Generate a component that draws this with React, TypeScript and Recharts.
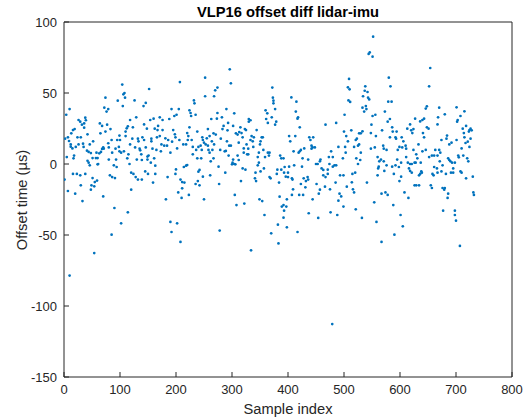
import React from 'react';
import { ScatterChart, Scatter, XAxis, YAxis } from 'recharts';

// [sample index, offset time (µs)], grouped by index range
const samples000: number[][] = [
  [74,46.7],[96,44.6],[10,38.7],[4,34.7],[72,39.7],[76,36.9],[79,38.7],[26,31.0],[29,29.8],[38,32.6],[39,30.8],[32,27.7],[36,28.6],[64,28.6],[68,26.8],[77,27.7],[19,24.6],[16,23.9],[36,25.6],[83,24.6],[74,22.8],[65,21.6],[42,20.9],[13,21.6],[7,18.8],[2,17.8],[24,18.8],[30,18.8],[9,16.2],[34,14.3],[12,13.8],[26,13.8],[52,16.0],[46,13.8],[79,14.6],[85,16.9],[95,16.9],[12,12.2],[15,11.0],[21,12.0],[35,12.0],[70,11.7],[68,10.6],[71,10.8],[80,11.7],[41,9.4],[44,8.5],[48,7.7],[58,8.0],[63,7.5],[66,8.5],[86,8.0],[92,10.8],[18,5.9],[17,4.0],[5,4.9],[51,4.2],[57,4.2],[60,4.2],[80,3.1],[93,3.1],[42,2.3],[44,0.9],[46,-0.9],[60,-0.2],[61,0],[89,-0.9],[94,-2.1],[16,-7.0],[23,-7.0],[29,-8.0],[38,-7.0],[51,-9.9],[55,-12.7],[59,-11.7],[82,-8.0],[86,-9.2],[91,-9.9],[1,-11.0],[54,-15.7],[49,-15.0],[30,-15.0],[48,-18.1],[7,-19.0],[20,-20.9],[70,-22.8],[33,-26.1],[90,-31.0],[85,-49.8],[54,-62.7],[10,-78.6],
];
const samples100: number[][] = [
  [104,55.9],[152,52.8],[106,49.1],[108,50.0],[109,46.7],[126,44.8],[105,40.8],[146,43.0],[142,40.8],[192,38.7],[129,32.9],[118,31.0],[114,26.5],[112,25.1],[123,25.8],[110,22.8],[110,19.7],[99,20.0],[143,27.9],[148,24.9],[154,31.0],[160,31.9],[171,32.9],[176,31.0],[168,26.8],[162,24.9],[167,23.9],[176,23.9],[188,31.7],[195,23.9],[100,16.9],[122,17.8],[132,17.8],[133,16.0],[140,18.8],[143,16.9],[156,17.8],[156,16.0],[166,18.8],[171,19.7],[181,18.1],[186,16.9],[193,15.7],[118,13.8],[127,11.7],[135,10.8],[136,9.6],[146,11.7],[158,10.8],[165,9.9],[174,13.8],[179,12.9],[184,12.9],[173,8.9],[190,8.0],[107,8.9],[98,12.0],[99,8.9],[102,8.0],[115,6.8],[113,4.0],[138,6.8],[130,3.1],[139,2.8],[149,5.2],[151,5.9],[149,3.1],[161,4.0],[155,0.9],[117,0],[163,-1.2],[120,-6.1],[124,-7.0],[128,-9.2],[132,-11.0],[139,-11.0],[145,-5.2],[150,-7.0],[163,-7.0],[159,-13.1],[185,-9.2],[120,-18.1],[182,-24.9],[114,-34.0],[102,-41.8],[190,-40.8],[192,-47.9],
];
const samples200: number[][] = [
  [252,60.8],[207,57.7],[274,53.8],[270,51.9],[252,47.7],[268,47.7],[232,44.8],[233,42.7],[205,38.7],[224,37.8],[226,35.9],[227,33.8],[235,34.7],[201,34.7],[197,33.8],[274,35.9],[290,38.7],[263,31.7],[273,31.9],[282,32.9],[293,28.9],[224,25.8],[285,26.8],[283,24.6],[292,23.7],[257,24.6],[238,22.8],[220,21.8],[198,20.9],[199,18.8],[222,19.7],[221,16.9],[228,16.9],[247,18.8],[255,18.1],[260,19.7],[267,21.6],[271,20.7],[280,17.8],[291,16.0],[206,16.9],[248,16.9],[250,15.0],[253,13.8],[257,12.9],[264,16.0],[268,13.8],[213,13.8],[218,13.8],[244,12.9],[240,12.0],[230,12.0],[202,11.0],[236,9.9],[246,9.9],[258,9.9],[265,9.9],[260,8.0],[279,9.9],[287,8.9],[289,9.2],[295,12.9],[294,5.9],[230,6.8],[238,4.0],[245,4.0],[267,4.0],[262,1.9],[276,-1.9],[218,-1.2],[214,-2.1],[220,-0.7],[200,-3.8],[199,-7.0],[242,-4.2],[240,-5.4],[288,-6.1],[248,-8.9],[261,-8.0],[208,-11.0],[211,-12.7],[215,-13.1],[239,-12.0],[235,-14.1],[242,-15.0],[277,-14.1],[211,-17.1],[204,-20.0],[223,-21.8],[210,-23.9],[250,-24.9],[202,-41.8],[278,-46.9],[208,-54.9],
];
const samples300: number[][] = [
  [296,66.7],[298,56.8],[372,53.8],[373,46.7],[374,44.6],[374,42.7],[360,37.8],[377,38.7],[363,35.7],[304,35.7],[361,31.7],[371,32.9],[330,31.7],[333,30.8],[330,29.8],[379,29.8],[364,28.9],[377,27.7],[302,26.8],[315,25.8],[323,24.6],[325,23.9],[344,23.9],[313,22.5],[317,21.8],[307,21.6],[310,20.7],[319,18.8],[335,19.7],[339,18.8],[353,18.8],[355,18.8],[333,16.9],[337,16.0],[351,16.0],[312,15.0],[326,13.8],[350,13.8],[338,12.0],[298,12.9],[321,11.0],[329,10.8],[356,9.9],[321,8.0],[348,8.0],[364,8.0],[367,8.0],[327,6.8],[329,6.8],[310,5.9],[346,4.9],[359,4.9],[366,5.9],[386,5.9],[388,4.0],[392,4.0],[302,3.1],[312,2.8],[301,0.9],[304,0],[306,-0.2],[300,-0.2],[348,0.9],[346,-0.9],[357,-3.1],[319,-3.1],[324,-4.0],[342,-6.1],[351,-5.2],[381,-4.0],[394,-2.1],[393,-6.1],[380,-7.0],[388,-4.0],[341,-10.1],[343,-12.0],[367,-9.2],[369,-10.1],[396,-8.9],[384,-13.1],[316,-12.0],[305,-21.8],[308,-28.9],[322,-27.9],[349,-24.9],[354,-26.1],[385,-23.0],[389,-30.0],[392,-28.9],[393,-32.9],[358,-35.9],[392,-37.8],[382,-42.7],[370,-48.8],[383,-55.9],[334,-60.8],
];
const samples400: number[][] = [
  [406,46.9],[415,43.9],[414,36.9],[418,32.9],[417,31.9],[421,25.8],[467,27.7],[486,28.9],[402,19.7],[413,19.7],[404,16.0],[438,18.8],[445,18.8],[440,16.9],[442,12.9],[444,11.7],[448,11.7],[442,10.8],[410,8.9],[423,9.9],[421,8.9],[429,11.0],[419,8.0],[426,4.0],[436,3.1],[477,8.9],[490,12.0],[473,4.9],[480,4.9],[458,3.1],[457,1.9],[450,0],[453,0],[474,0],[483,-0.9],[480,-1.9],[486,-0.9],[460,-3.1],[463,-4.2],[471,-4.0],[425,-1.9],[411,-0.9],[402,-1.9],[400,-6.1],[407,-10.1],[408,-11.0],[400,-9.2],[428,-10.1],[435,-9.2],[436,-11.0],[432,-12.0],[431,-16.4],[423,-14.1],[451,-14.1],[463,-8.0],[467,-9.2],[471,-7.0],[466,-16.0],[475,-17.8],[485,-13.1],[493,-8.0],[457,-18.1],[455,-20.9],[409,-17.8],[407,-21.8],[420,-21.8],[427,-21.8],[444,-24.9],[398,-24.9],[490,-25.8],[492,-20.9],[495,-22.8],[397,-30.0],[437,-34.7],[476,-34.0],[488,-35.9],[454,-38.0],[398,-44.6],[417,-47.9],[479,-112.7],
];
const samples500: number[][] = [
  [552,89.7],[546,78.6],[544,77.5],[551,75.6],[580,60.8],[509,59.9],[583,54.7],[507,54.0],[510,52.6],[538,54.7],[537,51.6],[542,50.7],[534,47.7],[543,46.7],[545,45.5],[508,44.8],[511,43.7],[579,43.9],[585,43.9],[539,40.8],[533,39.7],[540,38.7],[536,36.9],[573,36.9],[501,34.7],[556,34.7],[551,33.8],[582,31.7],[578,29.8],[549,27.7],[586,25.8],[500,22.8],[513,23.7],[527,21.6],[530,21.6],[533,23.0],[568,23.7],[587,22.8],[594,22.8],[548,21.8],[504,19.7],[557,19.7],[523,17.8],[521,16.9],[507,16.0],[582,18.8],[592,18.8],[593,17.8],[527,13.8],[525,12.9],[518,12.0],[502,12.0],[570,12.9],[571,10.8],[576,9.9],[555,11.7],[548,10.8],[596,9.9],[503,8.0],[530,8.0],[560,4.9],[498,4.0],[522,4.0],[529,2.8],[566,3.1],[563,1.9],[571,1.9],[595,3.1],[525,0],[576,-0.9],[562,-1.9],[561,-3.1],[586,-1.9],[592,-0.9],[572,-4.9],[520,-6.1],[515,-7.0],[499,-8.0],[560,-8.0],[589,-7.0],[541,-13.1],[514,-12.9],[505,-16.0],[516,-17.8],[518,-20.0],[567,-20.9],[574,-20.0],[578,-21.8],[554,-27.0],[499,-30.0],[588,-28.9],[521,-31.9],[532,-38.0],[558,-40.8],[590,-49.8],[567,-54.9],
];
const samples600: number[][] = [
  [654,67.6],[652,54.7],[648,40.6],[646,39.0],[670,39.7],[680,35.0],[668,32.9],[627,31.9],[636,30.0],[640,31.0],[643,31.9],[618,27.9],[667,27.9],[613,24.9],[624,24.6],[620,23.7],[622,21.8],[648,25.8],[651,24.9],[641,21.8],[643,18.8],[684,20.0],[683,17.8],[674,16.9],[603,18.8],[606,16.0],[633,13.8],[688,13.8],[692,15.0],[599,12.0],[604,11.7],[610,12.9],[611,10.8],[624,9.9],[640,8.9],[646,9.9],[663,9.9],[670,9.9],[629,6.8],[661,5.9],[667,5.9],[672,8.0],[652,4.9],[657,5.9],[631,4.0],[611,4.9],[686,4.0],[688,2.8],[690,1.9],[671,1.9],[602,0.9],[614,0.9],[618,0],[621,0],[626,0.9],[628,0.9],[637,0.9],[693,0.9],[598,-2.1],[676,-0.9],[666,-3.1],[661,-2.1],[616,-3.1],[618,-4.9],[621,-6.1],[638,-5.2],[639,-6.1],[636,-7.0],[634,-8.0],[658,-7.0],[660,-8.0],[667,-6.1],[674,-5.2],[682,-7.0],[691,-6.1],[695,-6.1],[695,-3.1],[602,-8.9],[599,-12.0],[626,-15.0],[629,-15.0],[634,-15.0],[655,-15.0],[657,-16.9],[676,-16.9],[679,-18.1],[680,-16.9],[686,-20.9],[685,-23.9],[608,-20.0],[615,-23.9],[677,-32.9],[601,-35.9],[605,-43.9],
];
const samples700: number[][] = [
  [701,39.9],[715,37.1],[708,33.8],[703,31.0],[702,29.8],[718,26.8],[712,24.9],[726,24.9],[728,23.7],[724,23.9],[723,22.8],[714,21.8],[715,18.8],[726,17.8],[721,15.7],[717,14.8],[701,16.9],[724,12.0],[710,11.0],[704,5.9],[705,4.7],[713,5.9],[720,4.0],[722,1.9],[698,0.9],[708,-5.2],[710,-6.1],[718,-10.1],[730,-8.9],[731,-20.0],[732,-21.8],[698,-32.9],[698,-35.9],[700,-39.9],[707,-57.7],
];

const xTicks = [0, 100, 200, 300, 400, 500, 600, 700, 800];
const yTicks = [-150, -100, -50, 0, 50, 100];

const allSamples = [
  ...samples000, ...samples100, ...samples200, ...samples300,
  ...samples400, ...samples500, ...samples600, ...samples700,
];
const data = allSamples.map(([x, y]) => ({ x, y }));

const AXIS = '#262626';
const FONT = '"Liberation Sans", Arial, Helvetica, sans-serif';

const Dot = (props: any) => {
  const { cx, cy } = props;
  if (cx == null || cy == null) return null;
  return <circle cx={cx} cy={cy} r={1.35} fill="#0072BD" />;
};

export default function App() {
  return (
    <div style={{ position: 'absolute', left: 0, top: 0, width: 524, height: 420, background: '#fff', fontFamily: FONT }}>
      <ScatterChart width={524} height={420} margin={{ top: 2, right: 2, bottom: 23, left: 30 }}>
        <XAxis
          xAxisId="b" type="number" dataKey="x" orientation="bottom"
          domain={[0, 800]} ticks={xTicks} interval={0} allowDataOverflow
          height={20} tickSize={-5} tickMargin={13}
          stroke={AXIS} tick={{ fill: AXIS, fontSize: 13 }}
        />
        <XAxis
          xAxisId="t" type="number" orientation="top"
          domain={[0, 800]} ticks={xTicks} interval={0} allowDataOverflow
          height={20} tickSize={-5} tick={false} stroke={AXIS}
        />
        <YAxis
          yAxisId="l" type="number" dataKey="y" orientation="left"
          domain={[-150, 100]} ticks={yTicks} interval={0} allowDataOverflow
          width={34} tickSize={-5} tickMargin={12}
          stroke={AXIS} tick={{ fill: AXIS, fontSize: 13 }}
        />
        <YAxis
          yAxisId="r" type="number" orientation="right"
          domain={[-150, 100]} ticks={yTicks} interval={0} allowDataOverflow
          width={10} tickSize={-5} tick={false} stroke={AXIS}
        />
        <Scatter
          xAxisId="b" yAxisId="l" data={data} fill="#0072BD"
          shape={Dot} isAnimationActive={false}
        />
      </ScatterChart>
      <svg width={524} height={420} style={{ position: 'absolute', left: 0, top: 0, pointerEvents: 'none' }}>
        <text x={288} y={17} textAnchor="middle" fontWeight="bold" fontSize={14.7} fill="#000" fontFamily={FONT}>
          VLP16 offset diff lidar-imu
        </text>
        <text x={288} y={414} textAnchor="middle" fontSize={14.7} fill={AXIS} fontFamily={FONT}>
          Sample index
        </text>
        <text transform="translate(27,200) rotate(-90)" textAnchor="middle" fontSize={14.7} fill={AXIS} fontFamily={FONT}>
          Offset time (µs)
        </text>
      </svg>
    </div>
  );
}
